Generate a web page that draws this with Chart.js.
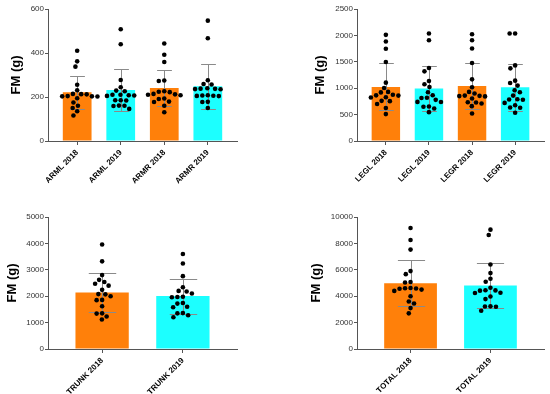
<!DOCTYPE html>
<html><head><meta charset="utf-8">
<script src="https://cdn.jsdelivr.net/npm/chart.js@4.4.1/dist/chart.umd.min.js"></script>
<style>
body{margin:0;background:#fff;width:550px;height:394px;position:relative;overflow:hidden}
.p{position:absolute;width:275px;height:197px}
canvas{display:block}
</style></head><body>
<div class="p" style="left:0;top:0"><canvas id="c1" width="275" height="197"></canvas></div>
<div class="p" style="left:275px;top:0"><canvas id="c2" width="275" height="197"></canvas></div>
<div class="p" style="left:0;top:197px"><canvas id="c3" width="275" height="197"></canvas></div>
<div class="p" style="left:275px;top:197px"><canvas id="c4" width="275" height="197"></canvas></div>
<script>
// ---- data ----
const armCategories = ['ARML 2018', 'ARML 2019', 'ARMR 2018', 'ARMR 2019'];
const armMeans = [222, 232, 241, 249];
const armSDs = [75, 95, 80, 102];
const armL2018 = [410, 362, 338, 256, 231, 214, 213, 212, 204, 203, 203, 202, 194, 175, 160, 150, 135, 116];
const armL2019 = [508, 440, 277, 244, 229, 226, 210, 210, 208, 207, 205, 185, 185, 184, 161, 160, 159, 146];
const armR2018 = [443, 392, 359, 275, 273, 226, 224, 222, 214, 212, 210, 208, 193, 191, 179, 177, 160, 131];
const armR2019 = [547, 467, 276, 259, 257, 240, 238, 237, 236, 235, 208, 207, 206, 205, 204, 178, 177, 150];
const armTicks = [0, 200, 400, 600];

const legCategories = ['LEGL 2018', 'LEGL 2019', 'LEGR 2018', 'LEGR 2019'];
const legMeans = [1024, 992, 1043, 1018];
const legSDs = [446, 421, 443, 449];
const legL2018 = [2010, 1884, 1746, 1495, 1105, 1005, 930, 920, 875, 865, 860, 830, 825, 760, 755, 700, 625, 509];
const legL2019 = [2035, 1909, 1382, 1319, 1137, 1074, 1024, 923, 867, 820, 815, 779, 741, 740, 653, 650, 616, 546];
const legR2018 = [2023, 1909, 1752, 1476, 1168, 1018, 930, 900, 860, 855, 850, 845, 805, 735, 730, 710, 660, 521];
const legR2019 = [2035, 2035, 1432, 1376, 1143, 1099, 1049, 961, 923, 860, 790, 785, 780, 722, 678, 634, 630, 534];
const legTicks = [0, 500, 1000, 1500, 2000, 2500];

const trunkCategories = ['TRUNK 2018', 'TRUNK 2019'];
const trunkMeans = [2140, 2003];
const trunkSDs = [744, 660];
const trunk2018 = [3960, 3320, 2800, 2620, 2540, 2470, 2400, 2240, 2080, 2070, 2000, 1860, 1850, 1620, 1350, 1340, 1230, 1120];
const trunk2019 = [3600, 3240, 2760, 2340, 2200, 2180, 2100, 1980, 1970, 1960, 1740, 1720, 1600, 1580, 1360, 1350, 1280, 1200];
const trunkTicks = [0, 1000, 2000, 3000, 4000, 5000];

const totalCategories = ['TOTAL 2018', 'TOTAL 2019'];
const totalMeans = [4990, 4808];
const totalSDs = [1740, 1712];
const total2018 = [9170, 8260, 7530, 5900, 5670, 5080, 5040, 4620, 4600, 4580, 4560, 4500, 4400, 4000, 3600, 3450, 3100, 2700];
const total2019 = [9040, 8640, 6400, 5750, 5320, 5100, 4640, 4450, 4440, 4420, 4260, 4240, 3980, 3780, 3230, 3220, 3200, 2900];
const totalTicks = [0, 2000, 4000, 6000, 8000, 10000];

const yTitle = 'FM (g)';
// ---------------------------------------

const ORANGE = '#FF800A', CYAN = '#1CFFFF', AXIS = '#555555', ERR = '#8a8a8a';
const FONT = "'Liberation Sans', Arial, sans-serif";

function makePanel(id, cats, means, sds, groups, ticks, lay) {
  const n = cats.length;
  const errPlugin = {
    id: 'errbars' + id,
    afterDatasetDraw(chart, args) {
      if (args.index !== 0) return;
      const ctx = chart.ctx, xs = chart.scales.x, ys = chart.scales.y;
      const half = xs.getPixelForValue(0.17) - xs.getPixelForValue(0);
      ctx.save();
      ctx.strokeStyle = ERR; ctx.lineWidth = 1;
      means.forEach((m, i) => {
        const x = Math.round(xs.getPixelForValue(i)) + 0.5;
        const t = Math.round(ys.getPixelForValue(m + sds[i])) + 0.5;
        const b = Math.round(ys.getPixelForValue(m - sds[i])) + 0.5;
        ctx.beginPath();
        ctx.moveTo(x, t); ctx.lineTo(x, b);
        ctx.moveTo(x - half, t); ctx.lineTo(x + half, t);
        ctx.moveTo(x - half, b); ctx.lineTo(x + half, b);
        ctx.stroke();
      });
      ctx.restore();
    }
  };
  const chart = new Chart(document.getElementById(id), {
    type: 'bar',
    data: {
      datasets: [
        {
          type: 'bar',
          data: means.map((m, i) => ({x: i, y: m})),
          backgroundColor: cats.map((c, i) => i % 2 === 0 ? ORANGE : CYAN),
          borderWidth: 0,
          barPercentage: 0.66,
          categoryPercentage: 1,
          order: 2
        },
        {
          type: 'scatter',
          data: [],
          pointRadius: 2.3,
          pointBackgroundColor: '#000',
          pointBorderWidth: 0,
          order: 1
        }
      ]
    },
    options: {
      responsive: false,
      animation: false,
      devicePixelRatio: 1,
      layout: {padding: {left: 0, right: lay.padRight, top: lay.padTop, bottom: 0}},
      plugins: {legend: {display: false}, tooltip: {enabled: false}},
      scales: {
        x: {
          type: 'linear',
          offset: false,
          min: -0.67,
          max: n - 1 + 0.67,
          afterBuildTicks: (s) => { s.ticks = cats.map((c, i) => ({value: i})); },
          afterFit: (s) => { s.height = lay.xHeight; },
          grid: {display: true, drawOnChartArea: false, drawTicks: true, tickLength: 4, color: AXIS, offset: false},
          border: {display: true, color: AXIS, width: 1},
          ticks: {
            autoSkip: false, minRotation: 45, maxRotation: 45, padding: 3,
            color: '#000', font: {family: FONT, size: 8, weight: 'bold'},
            callback: (v) => cats[Math.round(v)]
          }
        },
        y: {
          min: ticks[0],
          max: ticks[ticks.length - 1],
          afterBuildTicks: (s) => { s.ticks = ticks.map(v => ({value: v})); },
          afterFit: (s) => { s.width = lay.yWidth; },
          grid: {display: true, drawOnChartArea: false, drawTicks: true, tickLength: 3, color: AXIS},
          border: {display: true, color: AXIS, width: 1},
          ticks: {padding: 1, color: '#333', font: {family: FONT, size: 8}, callback: (v) => String(v)},
          title: {
            display: true, text: yTitle, color: '#000',
            font: {family: FONT, size: 13, weight: 'bold'},
            padding: {top: lay.titlePad, bottom: 0}
          }
        }
      }
    },
    plugins: [errPlugin]
  });
  // beeswarm placement of the individual values (non-overlapping dots)
  const xs = chart.scales.x, ys = chart.scales.y;
  const pxPerUnit = xs.getPixelForValue(1) - xs.getPixelForValue(0);
  const D = 5.5;
  const pts = [];
  groups.forEach((vals, gi) => {
    const placed = [];
    vals.slice().sort((a, b) => b - a).forEach(v => {
      const py = ys.getPixelForValue(v);
      for (let j = 0; j < 400; j++) {
        const dx = (j === 0 ? 0 : (j % 2 ? -Math.ceil(j / 2) : Math.ceil(j / 2))) * 0.25;
        if (!placed.some(p => (p.dx - dx) ** 2 + (p.py - py) ** 2 < D * D - 0.01)) {
          placed.push({dx, py});
          pts.push({x: gi + dx / pxPerUnit, y: v});
          break;
        }
      }
    });
  });
  chart.data.datasets[1].data = pts;
  chart.update('none');
  return chart;
}

makePanel('c1', armCategories, armMeans, armSDs, [armL2018, armL2019, armR2018, armR2019], armTicks,
  {yWidth: 48, padRight: 38, padTop: 9, xHeight: 56, titlePad: 9});
makePanel('c2', legCategories, legMeans, legSDs, [legL2018, legL2019, legR2018, legR2019], legTicks,
  {yWidth: 82, padRight: 6, padTop: 9, xHeight: 56, titlePad: 38});
makePanel('c3', trunkCategories, trunkMeans, trunkSDs, [trunk2018, trunk2019], trunkTicks,
  {yWidth: 48, padRight: 38, padTop: 20, xHeight: 45, titlePad: 5});
makePanel('c4', totalCategories, totalMeans, totalSDs, [total2018, total2019], totalTicks,
  {yWidth: 82, padRight: 6, padTop: 20, xHeight: 45, titlePad: 34});
</script>
</body></html>
